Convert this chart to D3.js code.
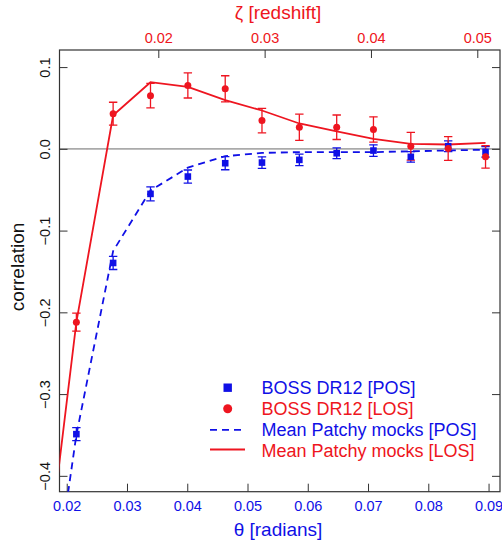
<!DOCTYPE html>
<html>
<head>
<meta charset="utf-8">
<script src="https://cdn.jsdelivr.net/npm/d3@7"></script>
<style>
  html, body { margin: 0; padding: 0; background: #fff; }
  svg { display: block; font-family: "Liberation Sans", Arial, sans-serif; }
</style>
</head>
<body>
<svg id="chart" width="502" height="545"></svg>
<script>
// ---- data ----
const theta = [0.0216, 0.0277, 0.0339, 0.0401, 0.0463, 0.0524, 0.0586, 0.0648, 0.0709, 0.0771, 0.0833, 0.0895];
const losData = [-0.212, 0.043, 0.065, 0.0775, 0.0734, 0.0346, 0.0264, 0.0264, 0.0236, 0.0032, 0.0004, -0.0098];
const losErr  = [0.011, 0.014, 0.015, 0.0153, 0.016, 0.015, 0.016, 0.015, 0.0155, 0.017, 0.0146, 0.0137];
const posData = [-0.349, -0.1396, -0.0551, -0.0339, -0.0176, -0.0168, -0.0135, -0.0054, -0.0021, -0.0098, 0.0032, -0.0037];
const posErr  = [0.008, 0.008, 0.0085, 0.008, 0.008, 0.007, 0.007, 0.0065, 0.007, 0.0065, 0.0065, 0.0065];
const mockTheta = [0.0154, 0.0216, 0.0277, 0.0339, 0.0401, 0.0463, 0.0524, 0.0586, 0.0648, 0.0709, 0.0771, 0.0833, 0.0895];
const mockLOS = [-0.59, -0.212, 0.041, 0.0815, 0.0759, 0.0595, 0.0469, 0.031, 0.0215, 0.0122, 0.006, 0.0053, 0.0073];
const mockPOS = [-0.668, -0.350, -0.125, -0.051, -0.023, -0.009, -0.005, -0.004, -0.004, -0.004, -0.003, -0.002, -0.001];
const xTicks = [0.02, 0.03, 0.04, 0.05, 0.06, 0.07, 0.08, 0.09];
const zTicks = [0.02, 0.03, 0.04, 0.05];
const yTicks = [0.1, 0.0, -0.1, -0.2, -0.3, -0.4];
const legendLabels = ["BOSS DR12 [POS]", "BOSS DR12 [LOS]", "Mean Patchy mocks [POS]", "Mean Patchy mocks [LOS]"];

const RED = "#ee1520", BLUE = "#1010e6";

const svg = d3.select("#chart");
const m = {left: 59.5, top: 50, right: 2, bottom: 53.3};
const W = 502 - m.left - m.right, H = 545 - m.top - m.bottom;

const x = d3.scaleLinear().domain([0.0188, 0.0919]).range([0, W]);
const z = d3.scaleLinear().domain([0.010708, 0.052136]).range([0, W]);
const y = d3.scaleLinear().domain([-0.4194, 0.1209]).range([H, 0]);

const g = svg.append("g").attr("transform", `translate(${m.left},${m.top})`);

svg.append("defs").append("clipPath").attr("id", "clip")
  .append("rect").attr("x", 0).attr("y", 0).attr("width", W).attr("height", H);

// zero line
g.append("line").attr("x1", 0).attr("x2", W).attr("y1", y(0)).attr("y2", y(0))
  .attr("stroke", "#aaaaaa").attr("stroke-width", 1.6);

// axes
const fs = "14.5px";
const bottomAx = g.append("g").attr("transform", `translate(0,${H})`)
  .call(d3.axisBottom(x).tickValues(xTicks).tickFormat(d3.format(".2f")).tickSizeInner(-8).tickSizeOuter(0).tickPadding(9));
bottomAx.selectAll("text").attr("fill", BLUE).style("font-size", fs);

const topAx = g.append("g")
  .call(d3.axisTop(z).tickValues(zTicks).tickFormat(d3.format(".2f")).tickSizeInner(-8).tickSizeOuter(0).tickPadding(7));
topAx.selectAll("text").attr("fill", RED).style("font-size", fs);

const leftAx = g.append("g")
  .call(d3.axisLeft(y).tickValues(yTicks).tickFormat(d3.format(".1f")).tickSizeInner(-8).tickSizeOuter(0));
leftAx.selectAll("text")
  .attr("transform", "rotate(-90)").attr("x", 0).attr("y", -9.5).attr("dy", 0)
  .attr("text-anchor", "middle").attr("fill", "#111").style("font-size", fs)
  .text(d => d === 0 ? "0.0" : d3.format(".1f")(d).replace("-", "\u2212"));

const rightAx = g.append("g").attr("transform", `translate(${W},0)`)
  .call(d3.axisRight(y).tickValues(yTicks).tickFormat("").tickSizeInner(-8).tickSizeOuter(0));

[bottomAx, topAx, leftAx, rightAx].forEach(a => {
  a.select(".domain").remove();
  a.selectAll("line").attr("stroke", "#333").attr("stroke-width", 1);
});

// frame
g.append("rect").attr("x", 0).attr("y", 0).attr("width", W).attr("height", H)
  .attr("fill", "none").attr("stroke", "#333").attr("stroke-width", 1.2);

// mock lines
const plot = g.append("g").attr("clip-path", "url(#clip)");
const line = d3.line().x(d => x(d[0])).y(d => y(d[1]));
plot.append("path").datum(mockTheta.map((t, i) => [t, mockPOS[i]]))
  .attr("d", line).attr("fill", "none").attr("stroke", BLUE).attr("stroke-width", 1.8)
  .attr("stroke-dasharray", "7,5");
plot.append("path").datum(mockTheta.map((t, i) => [t, mockLOS[i]]))
  .attr("d", line).attr("fill", "none").attr("stroke", RED).attr("stroke-width", 1.8);

// error bars
function errBars(vals, errs, color) {
  const cap = 4.2;
  const eg = plot.append("g").attr("stroke", color).attr("stroke-width", 1.3).attr("fill", "none");
  theta.forEach((t, i) => {
    const cx = x(t), y1 = y(vals[i] + errs[i]), y2 = y(vals[i] - errs[i]);
    eg.append("line").attr("x1", cx).attr("x2", cx).attr("y1", y1).attr("y2", y2);
    eg.append("line").attr("x1", cx - cap).attr("x2", cx + cap).attr("y1", y1).attr("y2", y1);
    eg.append("line").attr("x1", cx - cap).attr("x2", cx + cap).attr("y1", y2).attr("y2", y2);
  });
}
errBars(posData, posErr, BLUE);
errBars(losData, losErr, RED);

// points
plot.selectAll(".pos").data(theta).enter().append("rect")
  .attr("x", (t) => x(t) - 3.3).attr("y", (t, i) => y(posData[i]) - 3.3)
  .attr("width", 6.6).attr("height", 6.6).attr("fill", BLUE);
plot.selectAll(".los").data(theta).enter().append("circle")
  .attr("cx", t => x(t)).attr("cy", (t, i) => y(losData[i])).attr("r", 3.5).attr("fill", RED);

// titles
svg.append("text").attr("x", 278).attr("y", 19).attr("text-anchor", "middle")
  .attr("fill", RED).style("font-size", "19px").text("\u03B6 [redshift]");
svg.append("text").attr("x", 278).attr("y", 536).attr("text-anchor", "middle")
  .attr("fill", BLUE).style("font-size", "19px").text("\u03B8 [radians]");
svg.append("text").attr("transform", "translate(23.5,267) rotate(-90)").attr("text-anchor", "middle")
  .attr("fill", "#111").style("font-size", "19px").text("correlation");

// legend
const lg = svg.append("g");
const rowY = [387.7, 408.8, 429.9, 451];
const cols = [BLUE, RED, BLUE, RED];
lg.append("rect").attr("x", 227.7 - 4.2).attr("y", rowY[0] - 4.2).attr("width", 8.4).attr("height", 8.4).attr("fill", BLUE);
lg.append("circle").attr("cx", 227.7).attr("cy", rowY[1]).attr("r", 4.5).attr("fill", RED);
lg.append("line").attr("x1", 210).attr("x2", 245).attr("y1", rowY[2]).attr("y2", rowY[2])
  .attr("stroke", BLUE).attr("stroke-width", 1.8).attr("stroke-dasharray", "7,5");
lg.append("line").attr("x1", 210).attr("x2", 245).attr("y1", rowY[3] - 1.5).attr("y2", rowY[3] - 1.5)
  .attr("stroke", RED).attr("stroke-width", 1.8);
legendLabels.forEach((l, i) => {
  lg.append("text").attr("x", 261.5).attr("y", rowY[i] + 6).attr("fill", cols[i])
    .style("font-size", "18px").text(l);
});
</script>
</body>
</html>
